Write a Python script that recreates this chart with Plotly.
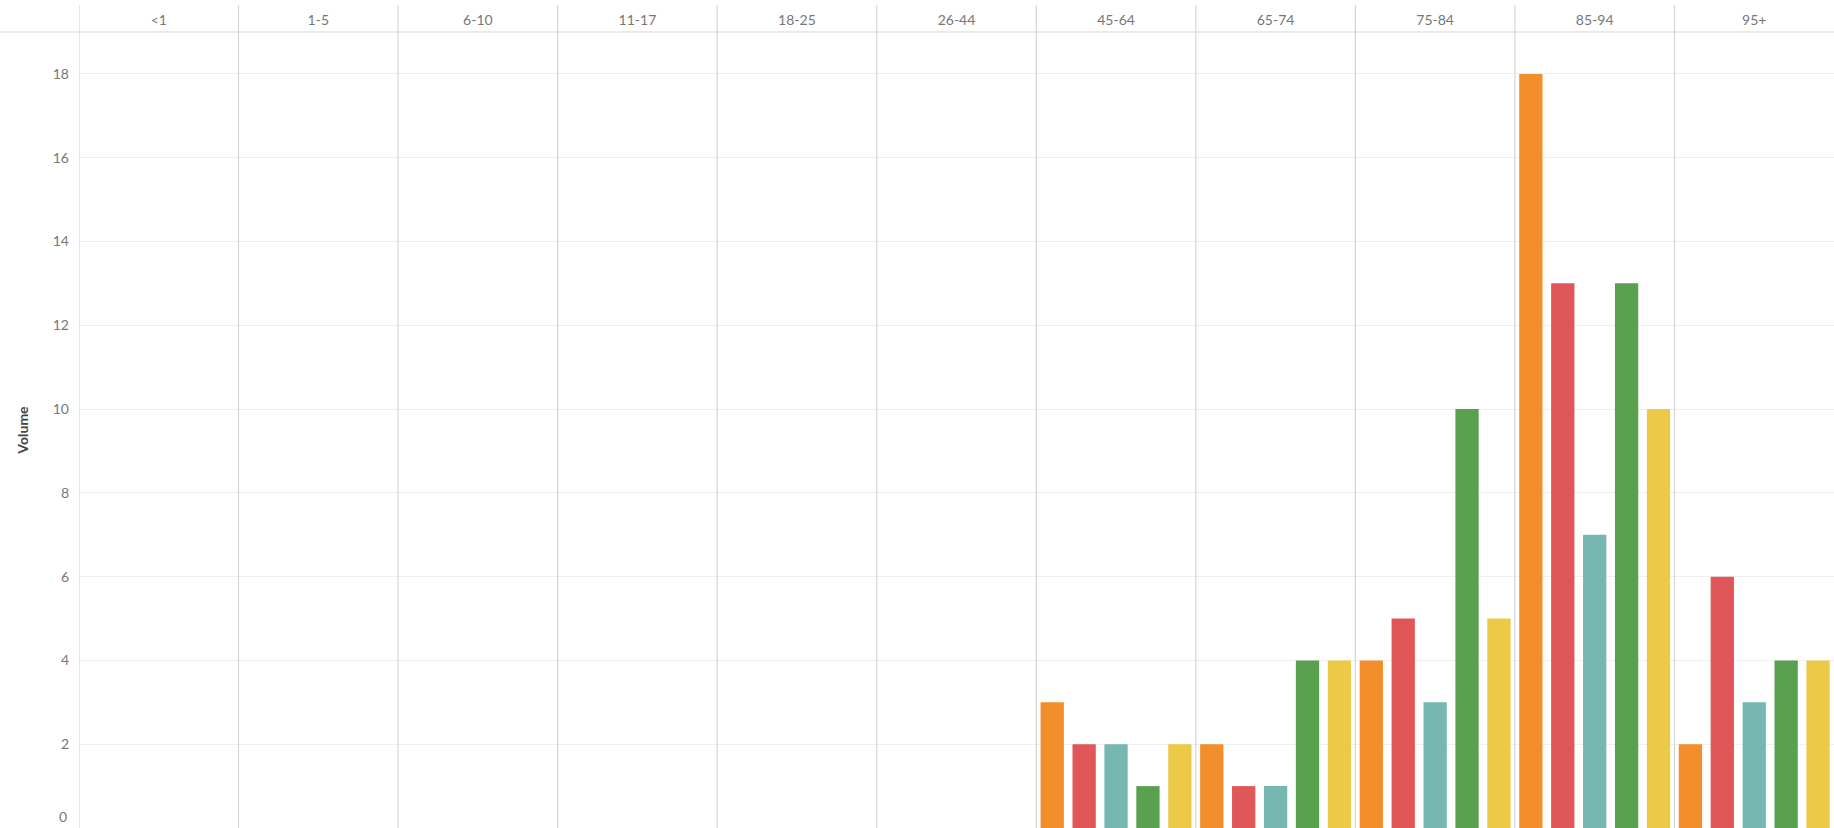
import plotly.graph_objects as go

age_groups = ["<1", "1-5", "6-10", "11-17", "18-25", "26-44", "45-64", "65-74", "75-84", "85-94", "95+"]
series_names = ["Series 1", "Series 2", "Series 3", "Series 4", "Series 5"]
series_colors = ["#F28E2B", "#E15759", "#76B7B2", "#59A14F", "#EDC948"]
series_values = [
    [0, 0, 0, 0, 0, 0, 3, 2, 4, 18, 2],
    [0, 0, 0, 0, 0, 0, 2, 1, 5, 13, 6],
    [0, 0, 0, 0, 0, 0, 2, 1, 3, 7, 3],
    [0, 0, 0, 0, 0, 0, 1, 4, 10, 13, 4],
    [0, 0, 0, 0, 0, 0, 2, 4, 5, 10, 4],
]
y_ticks = [2, 4, 6, 8, 10, 12, 14, 16, 18]

FONT = "Lato"
W, H = 1834, 828
ML, MT = 79, 32
plot_w = W - ML
plot_h = H - MT

fig = go.Figure()
for name, color, vals in zip(series_names, series_colors, series_values):
    fig.add_trace(go.Bar(x=age_groups, y=vals, name=name, marker_color=color,
                         marker_line_width=0))

shapes = []
# column dividers (category boundaries)
for k in range(len(age_groups)):
    shapes.append(dict(type="line", xref="x", yref="paper", x0=k - 0.5, x1=k - 0.5,
                       y0=0, y1=1 + 27 / plot_h, line=dict(color="#d6d6d6", width=1.2), layer="above"))
# header separator line
shapes.append(dict(type="line", xref="paper", yref="paper", x0=-ML / plot_w, x1=1, y0=1, y1=1,
                   line=dict(color="#d6d6d6", width=1.2), layer="above"))

fig.update_layout(
    width=W, height=H,
    margin=dict(l=ML, r=0, t=MT, b=0, autoexpand=False),
    paper_bgcolor="white", plot_bgcolor="white",
    barmode="group", bargap=0.0, bargroupgap=0.27,
    showlegend=False,
    shapes=shapes,
    font=dict(family=FONT, color="#777777", size=14),
    xaxis=dict(side="top", type="category", categoryorder="array", categoryarray=age_groups,
               range=[-0.5, len(age_groups) - 0.5], showgrid=False, zeroline=False, showline=False,
               automargin=False,
               ticks="", tickfont=dict(family=FONT, size=14, color="#777777"), ticklabelstandoff=3),
    yaxis=dict(range=[0, 19], tickmode="array", tickvals=y_ticks, ticktext=[str(v) for v in y_ticks],
               showgrid=True, gridcolor="#f0f0f0", gridwidth=1, zeroline=False, showline=False,
               automargin=False,
               ticks="", tickfont=dict(family=FONT, size=14, color="#777777"), ticklabelstandoff=9,
               title=dict(text="Volume", font=dict(family=FONT, size=14, color="#444444", weight="bold"),
                          standoff=20)),
    annotations=[dict(text="0", xref="paper", yref="paper", x=-10 / plot_w, y=12 / plot_h,
                      xanchor="right", yanchor="middle", showarrow=False,
                      font=dict(family=FONT, size=14, color="#777777"))],
)

fig.write_html("out.html", config={"displayModeBar": False},
               post_script="document.body.style.margin='0';document.body.style.overflow='hidden';")
